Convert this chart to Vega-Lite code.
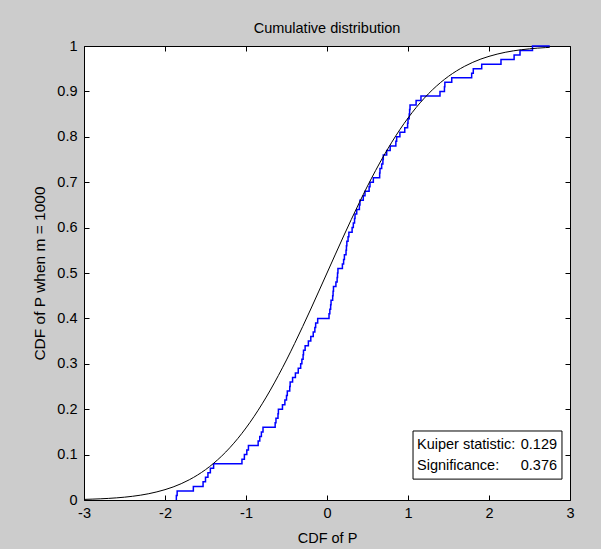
{
  "$schema": "https://vega.github.io/schema/vega-lite/v6.json",
  "width": 486,
  "height": 454,
  "autosize": {"type": "none"},
  "padding": {"left": 84, "top": 46, "right": 31, "bottom": 49},
  "background": "#cccccc",
  "config": {
    "view": {"fill": "white", "stroke": "black", "strokeWidth": 1},
    "font": "Liberation Sans",
    "axis": {
      "grid": false,
      "domain": false,
      "ticks": true,
      "tickColor": "black",
      "tickSize": -5,
      "tickWidth": 1,
      "labelColor": "black",
      "labelFont": "Liberation Sans",
      "labelFontSize": 14.5,
      "labelFlush": false,
      "labelOverlap": false,
      "labelBound": false,
      "titleFont": "Liberation Sans",
      "titleFontSize": 14.5,
      "titleFontWeight": "normal",
      "titleColor": "black"
    }
  },
  "title": {
    "text": "Cumulative distribution",
    "font": "Liberation Sans",
    "fontSize": 14.5,
    "fontWeight": "normal",
    "color": "black",
    "baseline": "alphabetic",
    "offset": -9
  },
  "datasets": {
    "ecdf": [
      {"x": -1.86, "y": 0}, {"x": -1.86, "y": 0.01}, {"x": -1.85, "y": 0.02}, {"x": -1.65, "y": 0.03},
      {"x": -1.53, "y": 0.04}, {"x": -1.5, "y": 0.05}, {"x": -1.47, "y": 0.06}, {"x": -1.44, "y": 0.07},
      {"x": -1.4, "y": 0.08}, {"x": -1.05, "y": 0.09}, {"x": -1.02, "y": 0.1}, {"x": -0.99, "y": 0.11},
      {"x": -0.97, "y": 0.12}, {"x": -0.85, "y": 0.13}, {"x": -0.83, "y": 0.14}, {"x": -0.81, "y": 0.15},
      {"x": -0.79, "y": 0.16}, {"x": -0.64, "y": 0.17}, {"x": -0.63, "y": 0.18}, {"x": -0.605, "y": 0.19},
      {"x": -0.6, "y": 0.2}, {"x": -0.55, "y": 0.21}, {"x": -0.52, "y": 0.22}, {"x": -0.5, "y": 0.23},
      {"x": -0.49, "y": 0.24}, {"x": -0.46, "y": 0.25}, {"x": -0.455, "y": 0.26}, {"x": -0.425, "y": 0.27},
      {"x": -0.39, "y": 0.28}, {"x": -0.355, "y": 0.29}, {"x": -0.325, "y": 0.3}, {"x": -0.31, "y": 0.31},
      {"x": -0.295, "y": 0.32}, {"x": -0.29, "y": 0.33}, {"x": -0.27, "y": 0.34}, {"x": -0.23, "y": 0.35},
      {"x": -0.2, "y": 0.36}, {"x": -0.17, "y": 0.37}, {"x": -0.15, "y": 0.38}, {"x": -0.14, "y": 0.39},
      {"x": -0.115, "y": 0.4}, {"x": 0.025, "y": 0.41}, {"x": 0.035, "y": 0.42}, {"x": 0.045, "y": 0.43},
      {"x": 0.05, "y": 0.44}, {"x": 0.07, "y": 0.45}, {"x": 0.075, "y": 0.46}, {"x": 0.08, "y": 0.47},
      {"x": 0.11, "y": 0.48}, {"x": 0.125, "y": 0.49}, {"x": 0.13, "y": 0.5}, {"x": 0.135, "y": 0.51},
      {"x": 0.19, "y": 0.52}, {"x": 0.205, "y": 0.53}, {"x": 0.215, "y": 0.54}, {"x": 0.235, "y": 0.55},
      {"x": 0.24, "y": 0.56}, {"x": 0.245, "y": 0.57}, {"x": 0.26, "y": 0.58}, {"x": 0.27, "y": 0.59},
      {"x": 0.31, "y": 0.6}, {"x": 0.325, "y": 0.61}, {"x": 0.34, "y": 0.62}, {"x": 0.346, "y": 0.63},
      {"x": 0.367, "y": 0.64}, {"x": 0.4, "y": 0.65}, {"x": 0.407, "y": 0.66}, {"x": 0.448, "y": 0.67},
      {"x": 0.469, "y": 0.68}, {"x": 0.52, "y": 0.69}, {"x": 0.531, "y": 0.7}, {"x": 0.572, "y": 0.71},
      {"x": 0.65, "y": 0.72}, {"x": 0.654, "y": 0.73}, {"x": 0.675, "y": 0.74}, {"x": 0.69, "y": 0.75},
      {"x": 0.695, "y": 0.76}, {"x": 0.737, "y": 0.77}, {"x": 0.78, "y": 0.78}, {"x": 0.85, "y": 0.79},
      {"x": 0.86, "y": 0.8}, {"x": 0.9, "y": 0.81}, {"x": 0.96, "y": 0.82}, {"x": 0.995, "y": 0.83},
      {"x": 1.0, "y": 0.84}, {"x": 1.015, "y": 0.85}, {"x": 1.02, "y": 0.86}, {"x": 1.025, "y": 0.87},
      {"x": 1.1, "y": 0.88}, {"x": 1.16, "y": 0.89}, {"x": 1.395, "y": 0.9}, {"x": 1.45, "y": 0.91},
      {"x": 1.455, "y": 0.92}, {"x": 1.54, "y": 0.93}, {"x": 1.786, "y": 0.94}, {"x": 1.806, "y": 0.95},
      {"x": 1.91, "y": 0.96}, {"x": 2.148, "y": 0.97}, {"x": 2.31, "y": 0.98}, {"x": 2.383, "y": 0.99},
      {"x": 2.537, "y": 1.0}, {"x": 2.75, "y": 1.0}
    ],
    "normal": [
      {"x": -3.0, "p": 0.0013}, {"x": -2.9, "p": 0.0019}, {"x": -2.8, "p": 0.0026}, {"x": -2.7, "p": 0.0035},
      {"x": -2.6, "p": 0.0047}, {"x": -2.5, "p": 0.0062}, {"x": -2.4, "p": 0.0082}, {"x": -2.3, "p": 0.0107},
      {"x": -2.2, "p": 0.0139}, {"x": -2.1, "p": 0.0179}, {"x": -2.0, "p": 0.0228}, {"x": -1.9, "p": 0.0287},
      {"x": -1.8, "p": 0.0359}, {"x": -1.7, "p": 0.0446}, {"x": -1.6, "p": 0.0548}, {"x": -1.5, "p": 0.0668},
      {"x": -1.4, "p": 0.0808}, {"x": -1.3, "p": 0.0968}, {"x": -1.2, "p": 0.1151}, {"x": -1.1, "p": 0.1357},
      {"x": -1.0, "p": 0.1587}, {"x": -0.9, "p": 0.1841}, {"x": -0.8, "p": 0.2119}, {"x": -0.7, "p": 0.242},
      {"x": -0.6, "p": 0.2743}, {"x": -0.5, "p": 0.3085}, {"x": -0.4, "p": 0.3446}, {"x": -0.3, "p": 0.3821},
      {"x": -0.2, "p": 0.4207}, {"x": -0.1, "p": 0.4602}, {"x": 0.0, "p": 0.5}, {"x": 0.1, "p": 0.5398},
      {"x": 0.2, "p": 0.5793}, {"x": 0.3, "p": 0.6179}, {"x": 0.4, "p": 0.6554}, {"x": 0.5, "p": 0.6915},
      {"x": 0.6, "p": 0.7257}, {"x": 0.7, "p": 0.758}, {"x": 0.8, "p": 0.7881}, {"x": 0.9, "p": 0.8159},
      {"x": 1.0, "p": 0.8413}, {"x": 1.1, "p": 0.8643}, {"x": 1.2, "p": 0.8849}, {"x": 1.3, "p": 0.9032},
      {"x": 1.4, "p": 0.9192}, {"x": 1.5, "p": 0.9332}, {"x": 1.6, "p": 0.9452}, {"x": 1.7, "p": 0.9554},
      {"x": 1.8, "p": 0.9641}, {"x": 1.9, "p": 0.9713}, {"x": 2.0, "p": 0.9772}, {"x": 2.1, "p": 0.9821},
      {"x": 2.2, "p": 0.9861}, {"x": 2.3, "p": 0.9893}, {"x": 2.4, "p": 0.9918}, {"x": 2.5, "p": 0.9938},
      {"x": 2.6, "p": 0.9953}, {"x": 2.7, "p": 0.9965}, {"x": 2.75, "p": 0.997}
    ],
    "box": [
      {"x1": 1.062, "x2": 2.901, "y1": 0.046, "y2": 0.152}
    ],
    "boxtext": [
      {"lx": 1.111, "rx": 2.84, "ty": 0.1117, "name": "Kuiper statistic:", "val": "0.129"},
      {"lx": 1.111, "rx": 2.84, "ty": 0.065, "name": "Significance:", "val": "0.376"}
    ]
  },
  "layer": [
    {
      "data": {"name": "ecdf"},
      "mark": {"type": "line", "interpolate": "step-after", "color": "#0000ff", "strokeWidth": 1.5},
      "encoding": {
        "x": {
          "field": "x", "type": "quantitative",
          "scale": {"domain": [-3, 3], "nice": false, "zero": false},
          "axis": {"orient": "bottom", "values": [-3, -2, -1, 0, 1, 2, 3], "labelExpr": "'' + datum.value", "labelPadding": 11, "title": "CDF of P", "titlePadding": 12}
        },
        "y": {
          "field": "y", "type": "quantitative",
          "scale": {"domain": [0, 1], "nice": false, "zero": false},
          "axis": {"orient": "left", "values": [0, 0.1, 0.2, 0.3, 0.4, 0.5, 0.6, 0.7, 0.8, 0.9, 1], "labelExpr": "'' + datum.value", "labelPadding": 12, "title": "CDF of P when m = 1000", "titlePadding": 9, "titleFontSize": 15.5}
        }
      }
    },
    {
      "data": {"name": "normal"},
      "mark": {"type": "line", "interpolate": "monotone", "color": "black", "strokeWidth": 1},
      "encoding": {
        "x": {
          "field": "x", "type": "quantitative",
          "scale": {"domain": [-3, 3], "nice": false, "zero": false},
          "axis": {"orient": "top", "values": [-3, -2, -1, 0, 1, 2, 3], "labels": false, "title": null}
        },
        "y": {
          "field": "p", "type": "quantitative",
          "scale": {"domain": [0, 1], "nice": false, "zero": false},
          "axis": {"orient": "right", "values": [0, 0.1, 0.2, 0.3, 0.4, 0.5, 0.6, 0.7, 0.8, 0.9, 1], "labels": false, "title": null}
        }
      }
    },
    {
      "data": {"name": "box"},
      "mark": {"type": "rect", "fill": "white", "stroke": "black", "strokeWidth": 1},
      "encoding": {
        "x": {"field": "x1", "type": "quantitative", "scale": {"domain": [-3, 3], "nice": false, "zero": false}, "axis": null},
        "x2": {"field": "x2"},
        "y": {"field": "y1", "type": "quantitative", "scale": {"domain": [0, 1], "nice": false, "zero": false}, "axis": null},
        "y2": {"field": "y2"}
      }
    },
    {
      "data": {"name": "boxtext"},
      "mark": {"type": "text", "align": "left", "baseline": "alphabetic", "font": "Liberation Sans", "fontSize": 14.5, "color": "black"},
      "encoding": {
        "x": {"field": "lx", "type": "quantitative", "scale": {"domain": [-3, 3], "nice": false, "zero": false}, "axis": null},
        "y": {"field": "ty", "type": "quantitative", "scale": {"domain": [0, 1], "nice": false, "zero": false}, "axis": null},
        "text": {"field": "name"}
      }
    },
    {
      "data": {"name": "boxtext"},
      "mark": {"type": "text", "align": "right", "baseline": "alphabetic", "font": "Liberation Sans", "fontSize": 14.5, "color": "black"},
      "encoding": {
        "x": {"field": "rx", "type": "quantitative", "scale": {"domain": [-3, 3], "nice": false, "zero": false}, "axis": null},
        "y": {"field": "ty", "type": "quantitative", "scale": {"domain": [0, 1], "nice": false, "zero": false}, "axis": null},
        "text": {"field": "val"}
      }
    }
  ],
  "resolve": {"axis": {"x": "independent", "y": "independent"}}
}
